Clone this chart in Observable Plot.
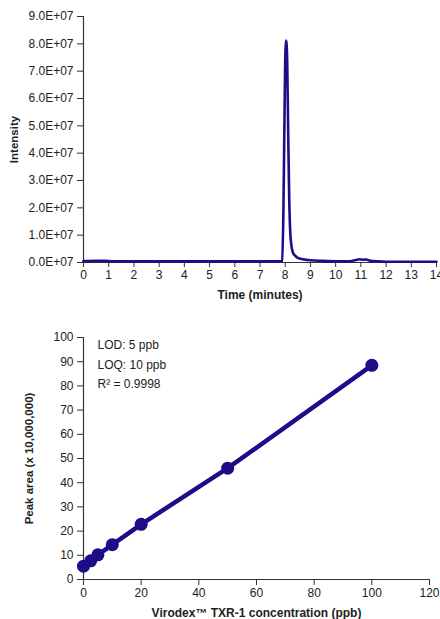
<!DOCTYPE html>
<html>
<head>
<meta charset="utf-8">
<script src="https://cdn.jsdelivr.net/npm/d3@7"></script>
<script src="https://cdn.jsdelivr.net/npm/@observablehq/plot@0.6"></script>
<style>
  html, body { margin: 0; padding: 0; background: #fff; }
  #topChart, #bottomChart { width: 440px; }
</style>
</head>
<body>
<div id="topChart"></div>
<div id="bottomChart"></div>
<script>
// Chromatogram (time in minutes, intensity in counts)
const chromTime = [0, 0.5, 0.8, 1.2, 2, 3, 4, 5, 6, 7, 7.8, 7.88, 7.93, 7.97, 8.0, 8.04, 8.08, 8.12, 8.16, 8.2, 8.25, 8.3, 8.4, 8.5, 8.7, 9.0, 9.5, 10, 10.5, 10.8, 10.95, 11.1, 11.2, 11.4, 11.7, 12, 13, 14];
const chromIntensity = [0.05e7, 0.06e7, 0.06e7, 0.04e7, 0.04e7, 0.04e7, 0.04e7, 0.04e7, 0.04e7, 0.04e7, 0.04e7, 0.06e7, 2.0e7, 5.2e7, 7.4e7, 8.12e7, 7.3e7, 4.6e7, 2.3e7, 1.1e7, 0.6e7, 0.38e7, 0.24e7, 0.17e7, 0.12e7, 0.08e7, 0.06e7, 0.045e7, 0.04e7, 0.09e7, 0.12e7, 0.1e7, 0.11e7, 0.06e7, 0.04e7, 0.03e7, 0.03e7, 0.03e7];
const timeTicks = [0, 1, 2, 3, 4, 5, 6, 7, 8, 9, 10, 11, 12, 13, 14];
const intensityTicks = [0, 1e7, 2e7, 3e7, 4e7, 5e7, 6e7, 7e7, 8e7, 9e7];

// Calibration curve
const concentration = [0, 2.5, 5, 10, 20, 50, 100];
const peakArea = [5.5, 7.7, 10.2, 14.4, 22.8, 46.0, 88.5];
const concTicks = [0, 20, 40, 60, 80, 100, 120];
const areaTicks = [0, 10, 20, 30, 40, 50, 60, 70, 80, 90, 100];
const annotations = ["LOD: 5 ppb", "LOQ: 10 ppb", "R\u00B2 = 0.9998"];

const navy = "#1c0d88";
const axisColor = "#333";
const font = "'Liberation Sans', Arial, sans-serif";

const chrom = chromTime.map((t, i) => ({t, v: chromIntensity[i]}));
const calib = concentration.map((c, i) => ({c, a: peakArea[i]}));

const chartTop = Plot.plot({
  width: 440,
  height: 305,
  marginLeft: 83,
  marginRight: 4,
  marginTop: 16,
  marginBottom: 43,
  style: {fontFamily: font, fontSize: "12px", color: "#222", background: "#fff"},
  x: {domain: [0, 14]},
  y: {domain: [0, 9e7]},
  marks: [
    Plot.axisY({ticks: intensityTicks, tickFormat: d => (d / 1e7).toFixed(1) + "E+07", tickSize: 6, tickPadding: 4, fontSize: 12, label: null, stroke: axisColor}),
    Plot.axisX({ticks: timeTicks, tickSize: 5, tickPadding: 3, fontSize: 12, label: null, stroke: axisColor}),
    Plot.ruleX([0], {stroke: axisColor, strokeWidth: 1.2}),
    Plot.ruleY([0], {stroke: axisColor, strokeWidth: 1.2}),
    Plot.line(chrom, {x: "t", y: "v", stroke: navy, strokeWidth: 2.6, curve: "monotone-x"}),
    Plot.text(["Time (minutes)"], {frameAnchor: "bottom", dy: 33, lineAnchor: "middle", fontWeight: "bold", fontSize: 12}),
    Plot.text(["Intensity"], {frameAnchor: "left", dx: -69, rotate: -90, textAnchor: "middle", lineAnchor: "middle", fontWeight: "bold", fontSize: 11.5})
  ]
});
document.getElementById("topChart").append(chartTop);

const chartBottom = Plot.plot({
  width: 440,
  height: 314,
  marginLeft: 83,
  marginRight: 11,
  marginTop: 32,
  marginBottom: 40,
  style: {fontFamily: font, fontSize: "12px", color: "#222", background: "#fff"},
  x: {domain: [0, 120]},
  y: {domain: [0, 100]},
  marks: [
    Plot.axisY({ticks: areaTicks, tickSize: 6, tickPadding: 4, fontSize: 12, label: null, stroke: axisColor}),
    Plot.axisX({ticks: concTicks, tickSize: 6, tickPadding: 3, fontSize: 12, label: null, stroke: axisColor}),
    Plot.ruleX([0], {stroke: axisColor, strokeWidth: 1.2}),
    Plot.ruleY([0], {stroke: axisColor, strokeWidth: 1.2}),
    Plot.line(calib, {x: "c", y: "a", stroke: navy, strokeWidth: 4.5}),
    Plot.dot(calib, {x: "c", y: "a", r: 6.5, fill: navy, stroke: "none"}),
    Plot.text([annotations.join("\n")], {frameAnchor: "top-left", dx: 14, dy: -2, lineAnchor: "top", textAnchor: "start", lineHeight: 1.62, fontSize: 12, fill: "#222"}),
    Plot.text(["Virodex\u2122 TXR-1 concentration (ppb)"], {frameAnchor: "bottom", dy: 34, lineAnchor: "middle", fontWeight: "bold", fontSize: 12}),
    Plot.text(["Peak area (x 10,000,000)"], {frameAnchor: "left", dx: -54, rotate: -90, textAnchor: "middle", lineAnchor: "middle", fontWeight: "bold", fontSize: 11.5})
  ]
});
document.getElementById("bottomChart").append(chartBottom);
</script>
</body>
</html>
